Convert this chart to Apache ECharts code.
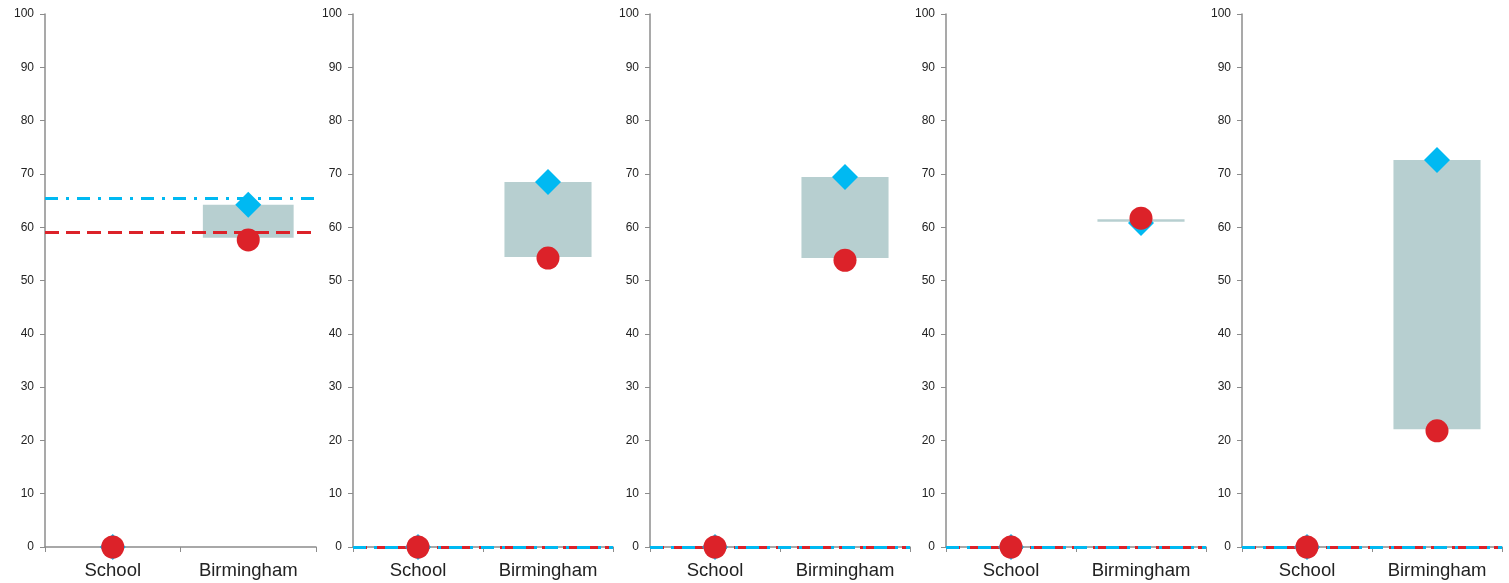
<!DOCTYPE html>
<html><head><meta charset="utf-8">
<script src="https://cdn.jsdelivr.net/npm/echarts@6/dist/echarts.min.js"></script>
<style>html,body{margin:0;padding:0;background:#fff}#c{width:1509px;height:583px}</style>
</head><body><div id="c"></div>
<script>
var categories = ['School', 'Birmingham'];
var schoolBlue = [0, 0, 0, 0, 0];
var schoolRed = [0, 0, 0, 0, 0];
var bhamBlue = [64.2, 68.5, 69.4, 60.8, 72.6];
var bhamRed = [57.6, 54.2, 53.8, 61.7, 21.8];
var rangeLow = [58.0, 54.4, 54.2, 61.0, 22.1];
var rangeHigh = [64.2, 68.5, 69.4, 61.5, 72.6];
var blueLine = [65.5, 0, 0, 0, 0];
var redLine = [59.1, 0, 0, 0, 0];
var yTicks = [0, 100, 10];

var panels = [[45, 271], [353, 260], [650, 260], [946, 260], [1242, 260]];
var BLUE = '#00b9f2', RED = '#dc2229', BAR = '#b7cfd0', AX = '#8c8c8c';
var FONT = 'Liberation Sans, Arial, sans-serif';

var grid = [], xAxis = [], yAxis = [], series = [];
panels.forEach(function (p, i) {
  grid.push({left: p[0], width: p[1], top: 14, bottom: 36});
  xAxis.push({type: 'category', gridIndex: i, data: categories, boundaryGap: true,
    axisLine: {lineStyle: {color: AX, width: 1.5}},
    axisTick: {show: true, length: 5, interval: 0, lineStyle: {color: AX}},
    axisLabel: {color: '#222', fontSize: 18.5, fontFamily: FONT, margin: 14, interval: 0, hideOverlap: false}});
  yAxis.push({type: 'value', gridIndex: i, min: yTicks[0], max: yTicks[1], interval: yTicks[2],
    axisLine: {show: true, lineStyle: {color: AX, width: 1.5}},
    axisTick: {show: true, length: 5, lineStyle: {color: AX}},
    splitLine: {show: false},
    axisLabel: {color: '#222', fontSize: 12, fontFamily: FONT, margin: 11}});
  series.push({type: 'bar', xAxisIndex: i, yAxisIndex: i, stack: 's' + i, barWidth: '67%',
    itemStyle: {color: 'transparent'}, silent: true, z: 1,
    data: ['-', rangeLow[i]]});
  series.push({type: 'bar', xAxisIndex: i, yAxisIndex: i, stack: 's' + i, barWidth: '67%',
    itemStyle: {color: BAR}, z: 1,
    data: ['-', +(rangeHigh[i] - rangeLow[i]).toFixed(2)],
    markLine: {symbol: 'none', silent: true, label: {show: false}, z: 2,
      data: [
        {yAxis: redLine[i], lineStyle: {color: RED, width: 3, type: [14, 7]}},
        {yAxis: blueLine[i], lineStyle: {color: BLUE, width: 3, type: [13, 8, 3, 8]}}
      ]}});
  series.push({type: 'scatter', xAxisIndex: i, yAxisIndex: i, symbol: 'diamond', symbolSize: 26, z: 5,
    itemStyle: {color: BLUE, opacity: 1}, data: [schoolBlue[i], bhamBlue[i]]});
  series.push({type: 'scatter', xAxisIndex: i, yAxisIndex: i, symbol: 'circle', symbolSize: 23, z: 6,
    itemStyle: {color: RED, opacity: 1}, data: [schoolRed[i], bhamRed[i]]});
});

var chart = echarts.init(document.getElementById('c'), null, {renderer: 'canvas'});
chart.setOption({animation: false, textStyle: {fontFamily: FONT}, grid: grid, xAxis: xAxis, yAxis: yAxis, series: series});
</script></body></html>
